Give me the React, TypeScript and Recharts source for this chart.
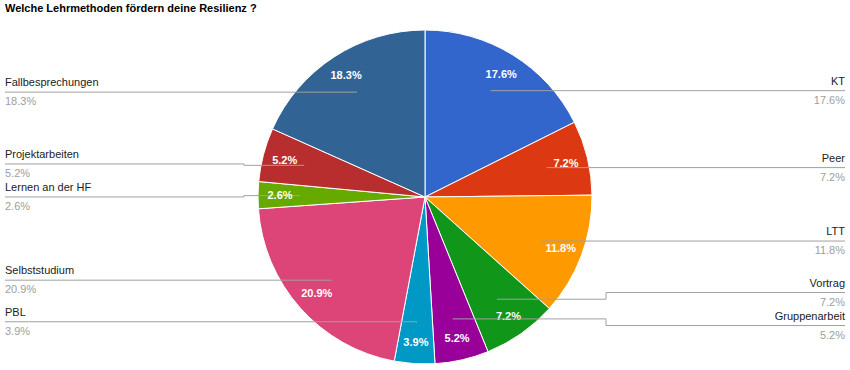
import React from 'react';
import { PieChart, Pie, Cell } from 'recharts';

const title = 'Welche Lehrmethoden fördern deine Resilienz ?';
const categories = ['KT', 'Peer', 'LTT', 'Vortrag', 'Gruppenarbeit', 'PBL', 'Selbststudium', 'Lernen an der HF', 'Projektarbeiten', 'Fallbesprechungen'];
const shares = [17.6, 7.2, 11.8, 7.2, 5.2, 3.9, 20.9, 2.6, 5.2, 18.3];
const sliceColors = ['#3366cc', '#dc3912', '#ff9900', '#109618', '#990099', '#0099c6', '#dd4477', '#66aa00', '#b82e2e', '#316395'];

const W = 850;
const H = 370;
const CX = 425;
const CY = 197;
const R = 167;
const ANCHOR_R = 125;
const INNER_LABEL_R = 145;
const MIN_GAP = 33;
const EDGE_PAD = 5;
const ELBOW = 12;
const FONT = "'Liberation Sans', Arial, sans-serif";
const RAD = Math.PI / 180;

const data = categories.map((name, i) => ({ name, value: shares[i] }));

// compute label line y positions (collision avoidance per side)
function computeLayout() {
  const total = shares.reduce((a, b) => a + b, 0);
  let cum = 0;
  const items = shares.map((v, i) => {
    const mid = (cum + v / 2) / total;
    cum += v;
    const theta = mid * 360; // clockwise from top
    const y = CY - Math.cos(theta * RAD) * ANCHOR_R;
    return { i, side: mid < 0.5 ? 'right' : 'left', y };
  });
  const result: number[] = items.map((it) => it.y);
  (['left', 'right'] as const).forEach((side) => {
    const group = items.filter((it) => it.side === side).sort((a, b) => a.y - b.y);
    const ys = group.map((g) => g.y);
    for (let iter = 0; iter < 30; iter++) {
      for (let k = 1; k < ys.length; k++) {
        const gap = ys[k] - ys[k - 1];
        if (gap < MIN_GAP) {
          const d = (MIN_GAP - gap) / 2;
          ys[k - 1] -= d;
          ys[k] += d;
        }
      }
    }
    group.forEach((g, k) => {
      result[g.i] = ys[k];
    });
  });
  return result;
}

const labelYs = computeLayout();

const renderLabel = (props: any) => {
  const { cx, cy, midAngle, index, name, value } = props;
  const cosA = Math.cos(-midAngle * RAD);
  const sinA = Math.sin(-midAngle * RAD);
  const ax = cx + cosA * ANCHOR_R;
  const ay = cy + sinA * ANCHOR_R;
  const ix = cx + cosA * INNER_LABEL_R;
  const iy = cy + sinA * INNER_LABEL_R;
  const right = cosA >= 0;
  const ly = labelYs[index];
  const edgeX = right ? W - EDGE_PAD : EDGE_PAD;
  const elbowX = right ? cx + R + ELBOW + 2 : cx - R - ELBOW - 2;
  const shifted = Math.abs(ly - ay) > 0.5;
  const points = shifted
    ? `${ax},${ay} ${elbowX},${ay} ${elbowX},${ly} ${edgeX},${ly}`
    : `${ax},${ay} ${edgeX},${ay}`;
  const lineY = shifted ? ly : ay;
  const pct = `${Number(value).toFixed(1)}%`;
  return (
    <g key={`lbl-${index}`}>
      <polyline points={points} fill="none" stroke="#a0a0a0" strokeWidth={1} />
      <text
        x={edgeX}
        y={lineY - 6}
        textAnchor={right ? 'end' : 'start'}
        fontFamily={FONT}
        fontSize={11}
        fill="#222222"
      >
        {name}
      </text>
      <text
        x={edgeX}
        y={lineY + 13}
        textAnchor={right ? 'end' : 'start'}
        fontFamily={FONT}
        fontSize={11}
        fill="#9e9e9e"
      >
        {pct}
      </text>
      <text
        x={ix}
        y={iy}
        textAnchor="middle"
        dominantBaseline="central"
        fontFamily={FONT}
        fontSize={11}
        fontWeight="bold"
        fill="#ffffff"
      >
        {pct}
      </text>
    </g>
  );
};

export default function App() {
  return (
    <div style={{ position: 'absolute', left: 0, top: 0, width: W, height: H, background: '#ffffff' }}>
      <PieChart width={W} height={H} margin={{ top: 0, right: 0, bottom: 0, left: 0 }}>
        <Pie
          data={data}
          dataKey="value"
          nameKey="name"
          cx={CX}
          cy={CY}
          outerRadius={R}
          startAngle={90}
          endAngle={-270}
          stroke="#ffffff"
          strokeWidth={1}
          label={renderLabel}
          labelLine={false}
          isAnimationActive={false}
        >
          {data.map((d, i) => (
            <Cell key={d.name} fill={sliceColors[i]} />
          ))}
        </Pie>
      </PieChart>
      <div
        style={{
          position: 'absolute',
          left: 5,
          top: 2,
          fontFamily: FONT,
          fontSize: 11,
          fontWeight: 'bold',
          lineHeight: '13px',
          color: '#000000',
          whiteSpace: 'nowrap',
        }}
      >
        {title}
      </div>
    </div>
  );
}
